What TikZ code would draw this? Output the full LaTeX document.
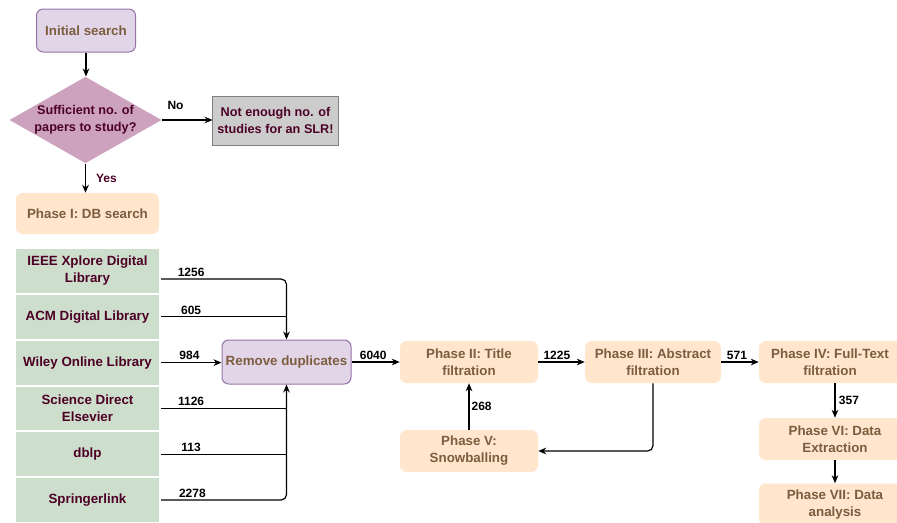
\documentclass[tikz,border=0pt]{standalone}
\usepackage{fontspec}
\setmainfont{Liberation Sans}
\usepackage{tikz}
\usetikzlibrary{shapes.geometric,arrows.meta,calc}

\definecolor{boxpurple}{RGB}{225,213,231}
\definecolor{edgepurple}{RGB}{150,115,166}
\definecolor{mauve}{RGB}{205,162,190}
\definecolor{peach}{RGB}{255,230,204}
\definecolor{sage}{RGB}{205,223,204}
\definecolor{brownish}{RGB}{125,93,62}
\definecolor{maroon}{RGB}{77,0,38}

\begin{document}
\begin{tikzpicture}[x=0.75pt,y=0.75pt,yscale=-1,xscale=1,
    bigtext/.style={font=\fontsize{10}{12.75}\selectfont\bfseries},
    smalltext/.style={font=\fontsize{9.5}{12.5}\selectfont\bfseries},
    purplebox/.style={bigtext, fill=boxpurple, draw=edgepurple, line width=0.75pt, rounded corners=5pt, text=brownish, align=center, inner sep=2pt},
    phasebox/.style={bigtext, fill=peach, rounded corners=5pt, text=brownish, align=center, inner sep=2pt, minimum height=31.5pt},
    dbbox/.style={bigtext, fill=sage, draw=white, line width=1.5pt, text=maroon, align=center, minimum width=108.75pt, minimum height=34.35pt},
    decision/.style={smalltext, diamond, fill=mauve, text=maroon, align=center, inner sep=0pt, aspect=1.76, minimum width=112.5pt, minimum height=63pt},
    notebox/.style={smalltext, fill=gray!40, draw=gray, line width=0.75pt, text=maroon, align=center, minimum width=92.25pt, minimum height=36.75pt},
    count/.style={font=\fontsize{9}{11}\selectfont\bfseries, inner sep=1.5pt},
    conn/.style={line width=0.9pt, -{Stealth[length=6pt,width=5pt]}},
    plain/.style={line width=0.9pt}]
        \useasboundingbox (0,0) rectangle (897,522);

        \node [purplebox, minimum width=74.25pt, minimum height=32.25pt] (init) at (86,30.5) {Initial search};
        \node [decision] (dec) at (85.5,120) {Sufficient no. of\\papers to study?};
        \node [notebox] (enough) at (275.5,120.5) {Not enough no. of\\studies for an SLR!};
        \node [phasebox, minimum width=107.25pt, minimum height=30.75pt] (phase1) at (87.5,213.5) {Phase I: DB search};

        \node [dbbox] (ieee) at (87.5,271) {IEEE Xplore Digital\\Library};
        \node [dbbox] (acm) at (87.5,316.8) {ACM Digital Library};
        \node [dbbox] (wiley) at (87.5,362.6) {Wiley Online Library};
        \node [dbbox] (sd) at (87.5,408.4) {Science Direct\\Elsevier};
        \node [dbbox] (dblp) at (87.5,454.2) {dblp};
        \node [dbbox] (spr) at (87.5,500) {Springerlink};

        \node [purplebox, minimum width=96.75pt, minimum height=33pt] (rmdup) at (286.5,362) {Remove duplicates};
        \node [phasebox, minimum width=103.5pt] (phase2) at (469,362) {Phase II: Title\\filtration};
        \node [phasebox, minimum width=102pt] (phase3) at (653,362) {Phase III: Abstract\\filtration};
        \node [phasebox, minimum width=106.5pt] (phase4) at (830,362) {Phase IV: Full-Text\\filtration};
        \node [phasebox, minimum width=103.5pt] (phase5) at (469,451) {Phase V:\\Snowballing};
        \node [phasebox, minimum width=114pt] (phase6) at (835,439) {Phase VI: Data\\Extraction};
        \node [phasebox, minimum width=114pt] (phase7) at (835,504.5) {Phase VII: Data\\analysis};

        \draw [conn] (init.south) -- (init.south |- dec.north);
        \draw [conn] (dec.east) -- node [count, above=6pt, pos=0.27] {No} (dec.east -| enough.west);
        \draw [conn] (dec.south) -- node [count, right=6pt, text=maroon] {Yes} (dec.south |- phase1.north);

        \draw [conn, rounded corners=4pt] ($(ieee.east)+(0,8)$) -| node [count, above, pos=0.12] {1256} (rmdup.north);
        \draw [plain] (acm.east) -- node [count, above, pos=0.24] {605} (acm.east -| rmdup.north);
        \draw [conn] (wiley.east) -- node [count, above, pos=0.47] {984} (wiley.east -| rmdup.west);
        \draw [plain] (sd.east) -- node [count, above, pos=0.24] {1126} (sd.east -| rmdup.south);
        \draw [plain] (dblp.east) -- node [count, above, pos=0.24] {113} (dblp.east -| rmdup.south);
        \draw [conn, rounded corners=4pt] (spr.east) -| node [count, above, pos=0.125] {2278} (rmdup.south);

        \draw [conn] (rmdup) -- node [count, above, pos=0.45] {6040} (phase2);
        \draw [conn] (phase2) -- node [count, above, pos=0.4] {1225} (phase3);
        \draw [conn] (phase3) -- node [count, above, pos=0.42] {571} (phase4);
        \draw [conn] (phase4.south -| phase6.north) -- node [count, right, xshift=1pt] {357} (phase6.north);
        \draw [conn] (phase6) -- (phase7);
        \draw [conn] (phase5) -- node [count, right] {268} (phase2);
        \draw [conn, rounded corners=4pt] (phase3.south) |- (phase5.east);
\end{tikzpicture}
\end{document}
